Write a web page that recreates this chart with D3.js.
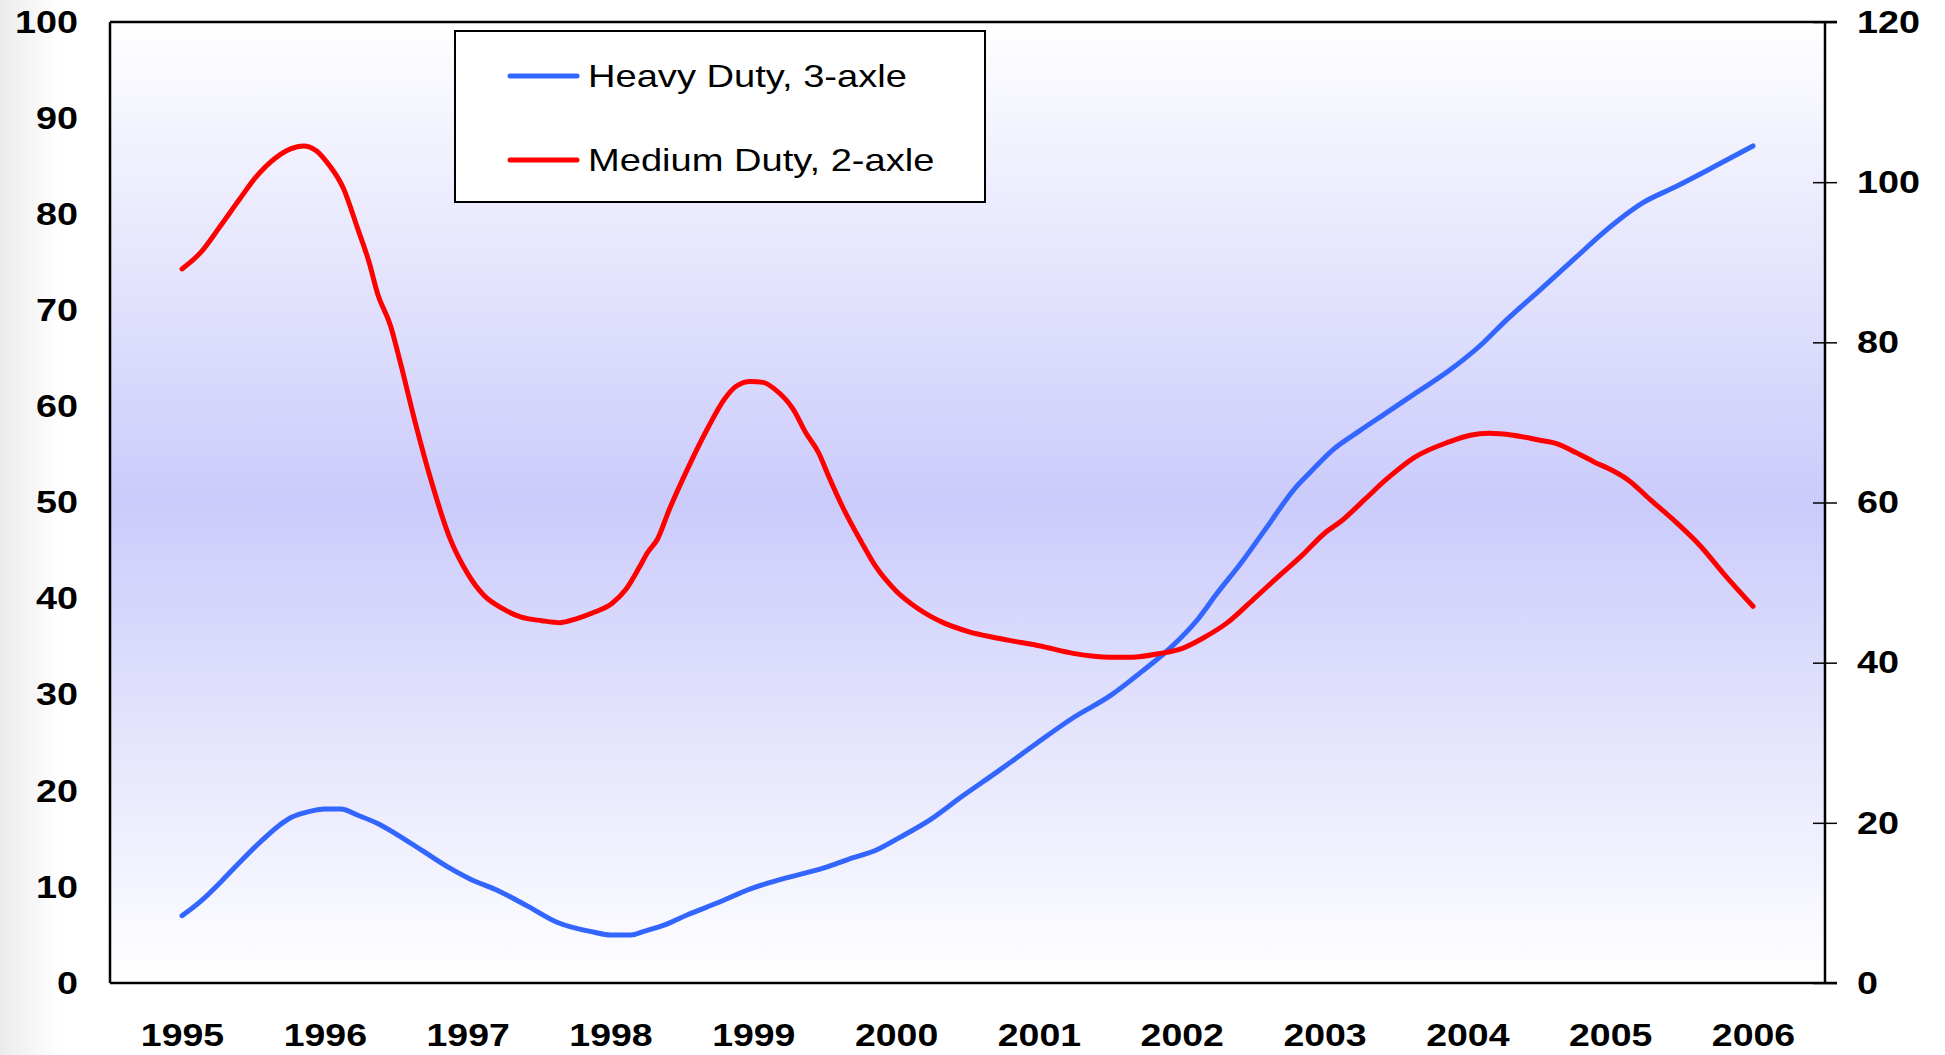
<!DOCTYPE html>
<html>
<head>
<meta charset="utf-8">
<script src="https://cdn.jsdelivr.net/npm/d3@7"></script>
<style>
  body { margin: 0; background: #fff; }
  svg { display: block; font-family: "Liberation Sans", Arial, sans-serif; }
</style>
</head>
<body>
<div id="chart"></div>
<script>
// data (left axis units)
let heavyYears = [1995.00, 1995.13, 1995.29, 1995.42, 1995.55, 1995.68, 1995.76, 1995.88, 1996.00, 1996.11,
  1996.24, 1996.37, 1996.50, 1996.68, 1996.87, 1997.02, 1997.20, 1997.42, 1997.63, 1997.88,
  1998.00, 1998.14, 1998.24, 1998.39, 1998.54, 1998.76, 1998.98, 1999.20, 1999.50, 1999.67,
  1999.87, 2000.02, 2000.24, 2000.46, 2000.72, 2000.98, 2001.24, 2001.50, 2001.72, 2001.93,
  2002.11, 2002.25, 2002.41, 2002.58, 2002.80, 2002.91, 2003.06, 2003.24, 2003.44, 2003.63,
  2003.87, 2004.11, 2004.26, 2004.50, 2004.76, 2004.93, 2005.06, 2005.23, 2005.45, 2005.71, 2006.00];
let heavyValues = [7.0, 8.5, 10.8, 12.8, 14.7, 16.4, 17.2, 17.8, 18.1, 18.1,
  17.4, 16.6, 15.5, 13.8, 12.0, 10.8, 9.7, 8.0, 6.3, 5.3,
  5.0, 5.0, 5.4, 6.1, 7.1, 8.4, 9.8, 10.8, 12.0, 12.9,
  13.9, 15.1, 17.0, 19.4, 22.1, 24.9, 27.6, 29.9, 32.4, 35.0,
  37.8, 40.6, 43.6, 47.1, 51.6, 53.3, 55.5, 57.4, 59.4, 61.3,
  63.7, 66.6, 68.8, 72.0, 75.5, 77.8, 79.4, 81.2, 82.8, 84.8, 87.1];

let mediumYears = [1995.00, 1995.13, 1995.27, 1995.40, 1995.52, 1995.65, 1995.76, 1995.85, 1995.94, 1996.01,
  1996.13, 1996.23, 1996.31, 1996.37, 1996.46, 1996.53, 1996.63, 1996.75, 1996.87, 1997.00,
  1997.11, 1997.24, 1997.37, 1997.52, 1997.65, 1997.76, 1997.89, 1998.01, 1998.11, 1998.20,
  1998.26, 1998.33, 1998.41, 1998.54, 1998.68, 1998.80, 1998.88, 1998.98, 1999.07, 1999.15,
  1999.28, 1999.37, 1999.46, 1999.52, 1999.63, 1999.76, 1999.85, 2000.00, 2000.15, 2000.33,
  2000.50, 2000.67, 2000.85, 2001.00, 2001.24, 2001.50, 2001.65, 2001.85, 2002.00, 2002.15,
  2002.32, 2002.50, 2002.67, 2002.85, 2003.00, 2003.12, 2003.28, 2003.44, 2003.63, 2003.87,
  2004.02, 2004.15, 2004.32, 2004.50, 2004.63, 2004.76, 2004.89, 2005.02, 2005.13, 2005.28,
  2005.45, 2005.63, 2005.80, 2006.00];
let mediumValues = [74.3, 76.0, 78.8, 81.5, 83.9, 85.8, 86.8, 87.1, 86.6, 85.5,
  82.7, 78.5, 75.0, 71.7, 68.4, 64.5, 58.5, 52.0, 46.5, 42.6,
  40.4, 39.0, 38.1, 37.7, 37.5, 37.9, 38.6, 39.5, 41.0, 43.2,
  44.8, 46.2, 49.2, 53.5, 57.7, 60.8, 62.1, 62.6, 62.5, 61.8,
  59.7, 57.2, 55.1, 53.0, 49.4, 45.8, 43.5, 40.8, 39.0, 37.5,
  36.6, 36.0, 35.5, 35.1, 34.3, 33.9, 33.9, 34.3, 34.8, 35.9,
  37.5, 39.9, 42.2, 44.6, 46.8, 48.1, 50.3, 52.5, 54.7, 56.3,
  57.0, 57.2, 57.0, 56.5, 56.1, 55.2, 54.2, 53.3, 52.3, 50.3,
  48.1, 45.5, 42.5, 39.2];

let xTicks = [1995, 1996, 1997, 1998, 1999, 2000, 2001, 2002, 2003, 2004, 2005, 2006];
let leftTicks = [0, 10, 20, 30, 40, 50, 60, 70, 80, 90, 100];
let rightTicks = [0, 20, 40, 60, 80, 100, 120];
let seriesNames = ["Heavy Duty, 3-axle", "Medium Duty, 2-axle"];
let seriesColors = ["#3366ff", "#ff0000"];

let width = 1945, height = 1055;
let plot = {left: 110, right: 1825, top: 22, bottom: 983};
let font = "Liberation Sans, Arial, sans-serif";

// the original text is a bit wider than Arial, stretch it sideways
function stretch(sel, k) {
    sel.each(function() {
        let w = this.getComputedTextLength();
        d3.select(this).attr("textLength", w * k).attr("lengthAdjust", "spacingAndGlyphs");
    });
}

let svg = d3.select("#chart").append("svg")
    .attr("width", width)
    .attr("height", height);

let defs = svg.append("defs");
let bgGrad = defs.append("linearGradient").attr("id", "plotbg")
    .attr("x1", 0).attr("y1", 0).attr("x2", 0).attr("y2", 1);
bgGrad.append("stop").attr("offset", "0%").attr("stop-color", "#ffffff");
bgGrad.append("stop").attr("offset", "50%").attr("stop-color", "#cbcbfb");
bgGrad.append("stop").attr("offset", "100%").attr("stop-color", "#ffffff");

let edgeGrad = defs.append("linearGradient").attr("id", "edge")
    .attr("x1", 0).attr("y1", 0).attr("x2", 1).attr("y2", 0);
edgeGrad.append("stop").attr("offset", "0%").attr("stop-color", "#ebebeb");
edgeGrad.append("stop").attr("offset", "100%").attr("stop-color", "#ffffff");

// light grey band on the page's left edge
svg.append("rect").attr("x", 0).attr("y", 0).attr("width", 60).attr("height", height)
    .attr("fill", "url(#edge)");

svg.append("rect")
    .attr("x", plot.left).attr("y", plot.top)
    .attr("width", plot.right - plot.left).attr("height", plot.bottom - plot.top)
    .attr("fill", "url(#plotbg)");

// scales
let xScale = d3.scaleLinear().domain([1995, 2006]).range([182, 1753]);
let yScale = d3.scaleLinear().domain([0, 100]).range([plot.bottom, plot.top]);
let y2Scale = d3.scaleLinear().domain([0, 120]).range([plot.bottom, plot.top]);

// frame lines
let frame = svg.append("g").attr("stroke", "#000").attr("stroke-width", 2.5);
frame.append("line").attr("x1", plot.left).attr("x2", plot.left)
    .attr("y1", plot.top).attr("y2", plot.bottom);
frame.append("line").attr("x1", plot.left).attr("x2", plot.right + 12)
    .attr("y1", plot.top).attr("y2", plot.top);
frame.append("line").attr("x1", plot.left).attr("x2", plot.right + 12)
    .attr("y1", plot.bottom).attr("y2", plot.bottom);

// right axis with crossing ticks
let yAxisRight = d3.axisRight(y2Scale).tickValues(rightTicks).tickSize(12).tickPadding(20);
let gRight = svg.append("g")
    .attr("transform", "translate(" + plot.right + ",0)")
    .call(yAxisRight);
gRight.select(".domain").attr("stroke-width", 2.5).attr("d", "M0," + plot.top + "V" + plot.bottom);
gRight.selectAll(".tick line").attr("x1", -12).attr("stroke-width", 1.5);
gRight.selectAll("text")
    .attr("font-size", 32).attr("font-weight", "bold").attr("fill", "#000")
    .attr("font-family", font)
    .call(stretch, 1.18);

// left axis labels only
let yAxisLeft = d3.axisLeft(yScale).tickValues(leftTicks).tickSize(0).tickPadding(32);
let gLeft = svg.append("g")
    .attr("transform", "translate(" + plot.left + ",0)")
    .call(yAxisLeft);
gLeft.select(".domain").remove();
gLeft.selectAll("text")
    .attr("font-size", 32).attr("font-weight", "bold").attr("fill", "#000")
    .attr("font-family", font)
    .call(stretch, 1.18);

// x axis labels
let xAxis = d3.axisBottom(xScale).tickValues(xTicks).tickFormat(d3.format("d")).tickSize(0).tickPadding(40);
let gX = svg.append("g")
    .attr("transform", "translate(0," + plot.bottom + ")")
    .call(xAxis);
gX.select(".domain").remove();
gX.selectAll("text")
    .attr("font-size", 32).attr("font-weight", "bold").attr("fill", "#000")
    .attr("font-family", font)
    .call(stretch, 1.17);

// lines
let line = d3.line()
    .x(d => xScale(d[0]))
    .y(d => yScale(d[1]))
    .curve(d3.curveMonotoneX);

let heavy = heavyYears.map((y, i) => [y, heavyValues[i]]);
let medium = mediumYears.map((y, i) => [y, mediumValues[i]]);

[heavy, medium].forEach((data, i) => {
    svg.append("path")
        .datum(data)
        .attr("fill", "none")
        .attr("stroke", seriesColors[i])
        .attr("stroke-width", 5)
        .attr("stroke-linejoin", "round")
        .attr("stroke-linecap", "round")
        .attr("d", line);
});

// legend
let legend = svg.append("g").attr("transform", "translate(455,31)");
legend.append("rect")
    .attr("width", 530).attr("height", 171)
    .attr("fill", "#fff").attr("stroke", "#000").attr("stroke-width", 2);
seriesNames.forEach((name, i) => {
    let row = legend.append("g").attr("transform", "translate(0," + (45 + i * 84) + ")");
    row.append("line")
        .attr("x1", 55).attr("x2", 122)
        .attr("stroke", seriesColors[i]).attr("stroke-width", 5)
        .attr("stroke-linecap", "round");
    row.append("text")
        .attr("x", 133).attr("y", 11)
        .attr("font-size", 32)
        .attr("fill", "#000")
        .text(name)
        .call(stretch, 1.19);
});
</script>
</body>
</html>
